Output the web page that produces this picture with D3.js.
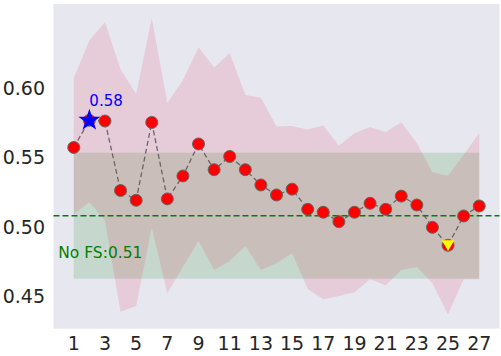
<!DOCTYPE html>
<html>
<head>
<meta charset="utf-8">
<script src="https://cdn.jsdelivr.net/npm/d3@7"></script>
<style>
  body { margin: 0; background: #fff; }
  text { font-family: "DejaVu Sans", sans-serif; }
</style>
</head>
<body>
<div id="chart"></div>
<script>
// Chart size
var width = 501;
var height = 356;

// Number of selected features on the x axis
var featureCounts = d3.range(1, 28);
var xTicks = [1, 3, 5, 7, 9, 11, 13, 15, 17, 19, 21, 23, 25, 27];
var yTicks = [0.45, 0.50, 0.55, 0.60];

// Mean score per feature count
var scores = [0.557, 0.5765, 0.576, 0.526, 0.519, 0.575, 0.520, 0.5365, 0.5595, 0.541,
  0.5505, 0.541, 0.530, 0.5228, 0.527, 0.5125, 0.5104, 0.5036, 0.5104, 0.5168,
  0.5125, 0.522, 0.5156, 0.4995, 0.4866, 0.5077, 0.5149];

// Upper and lower edge of the spread band
var upper = [0.607, 0.634, 0.647, 0.613, 0.5955, 0.650, 0.589, 0.6055, 0.629, 0.6145,
  0.625, 0.5947, 0.5928, 0.572, 0.5724, 0.570, 0.5727, 0.5583, 0.5672, 0.5717,
  0.5681, 0.5751, 0.560, 0.5391, 0.5367, 0.5518, 0.5672];
var lower = [0.5089, 0.5175, 0.5043, 0.4388, 0.4429, 0.4993, 0.4521, 0.4709, 0.4897, 0.4689,
  0.4753, 0.4861, 0.4688, 0.4737, 0.4809, 0.4552, 0.4478, 0.4501, 0.4528, 0.4622,
  0.4578, 0.4688, 0.471, 0.4593, 0.437, 0.4622, 0.4622];

// Score without feature selection
var baseMean = 0.5079;
var baseStd = 0.0453;

// Set up the svg
var svg = d3.select("#chart").append("svg")
  .attr("width", width)
  .attr("height", height);

// Scales
var x = d3.scaleLinear().domain([-0.3, 28.3]).range([53.5, 499.5]);
var y = d3.scaleLinear().domain([0.4266, 0.6602]).range([328.7, 4]);

// Plot background
svg.append("rect")
  .attr("x", x.range()[0])
  .attr("y", y.range()[1])
  .attr("width", x.range()[1] - x.range()[0])
  .attr("height", y.range()[0] - y.range()[1])
  .attr("fill", "#E7E7F0");

// Baseline band (mean +/- std)
svg.append("rect")
  .attr("x", x(1))
  .attr("y", y(baseMean + baseStd))
  .attr("width", x(27) - x(1))
  .attr("height", y(baseMean - baseStd) - y(baseMean + baseStd))
  .attr("fill", "green")
  .attr("fill-opacity", 0.14);

// Spread band of the scores
var area = d3.area()
  .x(function (d, i) { return x(featureCounts[i]); })
  .y0(function (d, i) { return y(lower[i]); })
  .y1(function (d, i) { return y(upper[i]); });

svg.append("path")
  .attr("d", area(scores))
  .attr("fill", "#e0204a")
  .attr("fill-opacity", 0.14);

// Baseline dashed line
svg.append("line")
  .attr("x1", x.range()[0])
  .attr("x2", x.range()[1])
  .attr("y1", y(baseMean))
  .attr("y2", y(baseMean))
  .attr("stroke", "green")
  .attr("stroke-width", 1.5)
  .attr("stroke-dasharray", "6,3");

svg.append("text")
  .attr("x", x(0))
  .attr("y", y(baseMean) + 42)
  .attr("fill", "green")
  .style("font-size", "15.5px")
  .text("No FS:" + baseMean.toFixed(2));

// Score line
var line = d3.line()
  .x(function (d, i) { return x(featureCounts[i]); })
  .y(function (d) { return y(d); });

svg.append("path")
  .attr("d", line(scores))
  .attr("fill", "none")
  .attr("stroke", "#555")
  .attr("stroke-opacity", 0.85)
  .attr("stroke-width", 1.3)
  .attr("stroke-dasharray", "5,3");

// Score markers
svg.selectAll("circle.score")
  .data(scores)
  .enter()
  .append("circle")
  .attr("class", "score")
  .attr("cx", function (d, i) { return x(featureCounts[i]); })
  .attr("cy", function (d) { return y(d); })
  .attr("r", 6)
  .attr("fill", "red")
  .attr("stroke", "#666")
  .attr("stroke-width", 1);

// Best and worst points
var bestIdx = d3.maxIndex(scores);
var worstIdx = d3.minIndex(scores);

svg.append("path")
  .attr("d", d3.symbol().type(d3.symbolStar).size(150)())
  .attr("transform", "translate(" + x(featureCounts[bestIdx]) + "," + y(scores[bestIdx]) + ")")
  .attr("fill", "blue");

svg.append("text")
  .attr("x", x(featureCounts[bestIdx]))
  .attr("y", y(scores[bestIdx]) - 14)
  .attr("fill", "blue")
  .style("font-size", "15px")
  .text(scores[bestIdx].toFixed(2));

svg.append("path")
  .attr("d", d3.symbol().type(d3.symbolTriangle).size(68)())
  .attr("transform", "translate(" + x(featureCounts[worstIdx]) + "," + (y(scores[worstIdx]) - 1.5) + ") rotate(180)")
  .attr("fill", "yellow");

// Axes tick labels
svg.selectAll("text.xtick")
  .data(xTicks)
  .enter()
  .append("text")
  .attr("class", "xtick")
  .attr("x", function (d) { return x(d); })
  .attr("y", 350)
  .attr("text-anchor", "middle")
  .attr("fill", "#262626")
  .style("font-size", "19px")
  .text(function (d) { return d; });

svg.selectAll("text.ytick")
  .data(yTicks)
  .enter()
  .append("text")
  .attr("class", "ytick")
  .attr("x", 45)
  .attr("y", function (d) { return y(d); })
  .attr("dy", "0.36em")
  .attr("text-anchor", "end")
  .attr("fill", "#262626")
  .style("font-size", "19px")
  .text(function (d) { return d.toFixed(2); });
</script>
</body>
</html>
